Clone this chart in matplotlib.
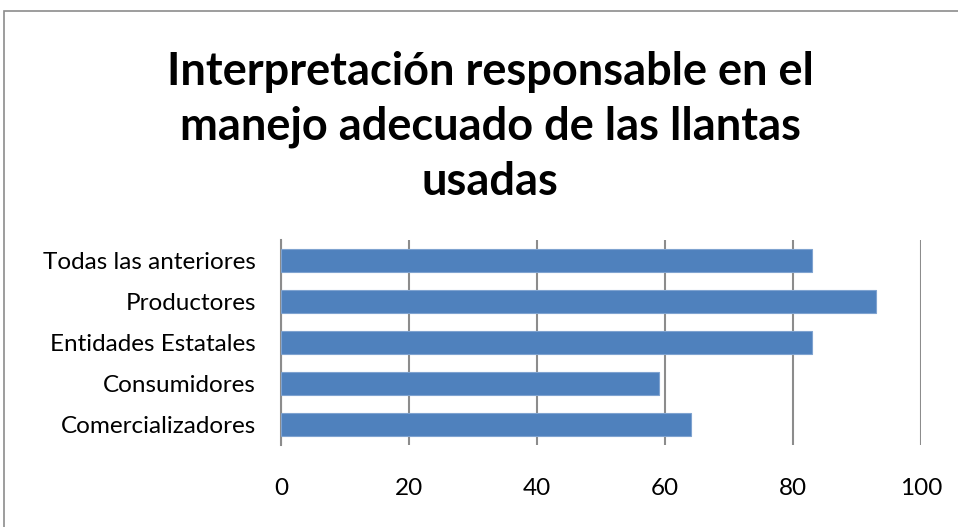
import matplotlib
matplotlib.use("Agg")
import matplotlib.pyplot as plt
from matplotlib.patches import Rectangle

# data
categories = ["Comercializadores", "Consumidores", "Entidades Estatales",
              "Productores", "Todas las anteriores"]
values = [64, 59, 83, 93, 83]
ticks = [0, 20, 40, 60, 80, 100]

plt.rcParams['font.family'] = ['Lato', 'DejaVu Sans']

W, H = 958, 527
fig = plt.figure(figsize=(W / 100, H / 100), dpi=100)

# outer chart border
fig.patches.append(Rectangle((4 / W, -0.01), 1.0, 1 - 11 / H - (-0.01),
                             transform=fig.transFigure, fill=False,
                             edgecolor="#8c8c8c", linewidth=1.2))

ax = fig.add_axes([281 / W, 1 - 445 / H, (921 - 281) / W, (445 - 240) / H])
ax.barh(range(len(categories)), values, height=0.56, color="#4f81bd",
        edgecolor="#7fa3d0", linewidth=0.8, zorder=3)

ax.set_xlim(0, 100)
ax.set_ylim(-0.5, len(categories) - 0.5)
ax.set_xticks(ticks)
ax.set_yticks(range(len(categories)))
ax.set_yticklabels(categories)
ax.grid(axis="x", color="#8c8c8c", linewidth=1.5, zorder=0)
ax.tick_params(axis="x", length=0, labelsize=17.5, pad=24)
ax.tick_params(axis="y", length=0, labelsize=17.5, pad=18)

for s in ["top", "right", "bottom"]:
    ax.spines[s].set_visible(False)
ax.spines["left"].set_color("#8c8c8c")
ax.spines["left"].set_linewidth(1.5)

fig.text(490 / W, 1 - 127 / H,
         "Interpretación responsable en el\nmanejo adecuado de las llantas\nusadas",
         ha="center", va="center", fontsize=32.5, fontweight="bold",
         linespacing=1.38)

fig.savefig("out.png", dpi=100)
